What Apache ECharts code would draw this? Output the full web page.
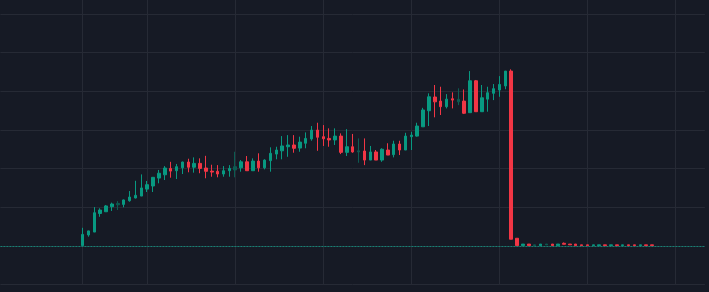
<!DOCTYPE html>
<html>
<head>
<meta charset="utf-8">
<script src="https://cdn.jsdelivr.net/npm/echarts@6/dist/echarts.min.js"></script>
<style>
  html, body { margin: 0; padding: 0; background: #161a25; overflow: hidden; }
  body { width: 709px; height: 292px; position: relative; }
  /* taller than the window so the top grid line sits above the frame */
  #chart { width: 709px; height: 330px; position: absolute; left: 0; top: -25px; }
</style>
</head>
<body>
<div id="chart"></div>
<script>
// empty bars before the first candle
const leadEmpty = 14
const totalSlots = 121
// vertical grid lines (slot indices)
const gridSlots = [14, 25, 40, 55, 70, 85, 100, 115]

const opens = [0.2, 5.7, 7.2, 16.8, 17.7, 20.3, 21.3, 21.5, 23.4, 24.8, 25.8, 29.4, 31.0, 35.1, 36.8, 40.1, 38.9, 40.4, 43.4, 40.7,
  42.7, 40.3, 38.7, 38.6, 37.2, 38.9, 39.3, 40.4, 43.5, 38.9, 43.9, 40.4, 44.1, 47.5, 49.2, 51.3, 52.2, 50.6, 53.1, 55.3,
  59.9, 56.5, 55.6, 54.8, 56.8, 48.4, 51.3, 49.2, 49.1, 44.4, 48.6, 44.4, 49.6, 47.2, 52.7, 49.6, 56.5, 56.8, 61.6, 69.9,
  77.0, 74.9, 72.0, 76.1, 75.8, 74.9, 68.9, 85.4, 69.4, 75.9, 78.9, 80.6, 82.7, 90.4, 4.0, 0.2, 1.0, 0.2, 0.2, 0.6,
  1.0, 0.2, 1.4, 1.0, 1.0, 0.6, 0.6, 0.2, 0.2, 0.6, 0.2, 0.6, 0.2, 0.6, 0.6, 0.2, 0.6, 0.6]
const closes = [6.0, 7.8, 17.2, 18.6, 20.7, 21.7, 22.0, 23.8, 25.3, 26.2, 30.0, 31.7, 35.5, 37.6, 40.3, 38.7, 41.0, 43.4, 40.7, 42.7,
  40.1, 38.6, 38.2, 37.2, 38.9, 40.1, 41.0, 43.5, 38.9, 43.9, 40.4, 44.4, 47.9, 49.6, 51.7, 52.2, 50.5, 53.7, 55.6, 59.9,
  56.2, 55.4, 54.8, 56.8, 48.4, 51.3, 48.6, 48.6, 44.4, 48.6, 44.4, 50.0, 47.0, 52.7, 49.6, 56.8, 57.3, 62.0, 70.3, 77.1,
  74.5, 72.0, 75.9, 75.4, 74.5, 68.6, 85.4, 69.4, 76.6, 79.2, 81.3, 83.5, 90.4, 3.5, 0.2, 1.0, 0.2, 0.6, 1.0, 1.0,
  0.2, 1.0, 0.9, 0.6, 0.2, 0.2, 0.2, 0.6, 0.6, 0.2, 0.6, 0.2, 0.6, 0.2, 0.2, 0.6, 0.2, 0.2]
const lows = [0.0, 4.8, 7.2, 15.1, 17.6, 18.1, 18.6, 20.0, 22.9, 24.6, 25.8, 27.9, 27.9, 32.4, 34.1, 35.3, 34.6, 37.2, 38.1, 37.9,
  37.6, 35.0, 35.8, 35.5, 35.8, 35.8, 35.5, 38.4, 38.9, 38.9, 38.4, 39.6, 38.4, 44.8, 44.8, 46.1, 48.2, 48.7, 50.5, 54.4,
  49.2, 51.7, 51.3, 52.2, 47.5, 46.5, 48.2, 43.0, 41.8, 44.4, 44.4, 43.5, 47.0, 45.8, 47.0, 49.6, 49.6, 56.5, 61.6, 62.0,
  66.5, 67.7, 71.1, 71.1, 72.8, 68.2, 68.9, 69.4, 69.4, 69.4, 75.4, 77.1, 81.0, 3.5, 0.2, 0.1, 0.2, 0.2, 0.2, 0.6,
  0.2, 0.2, 0.9, 0.6, 0.2, 0.2, 0.2, 0.2, 0.2, 0.2, 0.2, 0.2, 0.2, 0.2, 0.2, 0.2, 0.2, 0.2]
const highs = [9.4, 7.9, 20.1, 19.5, 21.2, 22.4, 23.2, 24.0, 28.4, 33.7, 37.0, 33.6, 35.6, 39.3, 41.3, 43.5, 42.4, 43.6, 45.1, 45.8,
  45.3, 46.6, 42.0, 41.8, 41.3, 41.8, 48.7, 44.4, 46.5, 45.3, 47.9, 44.8, 51.0, 51.3, 56.8, 57.3, 57.3, 56.5, 58.7, 62.0,
  63.7, 62.5, 60.8, 60.8, 58.2, 60.4, 57.9, 55.6, 55.6, 51.7, 49.6, 50.5, 53.1, 54.4, 54.4, 58.5, 59.0, 63.7, 71.4, 78.9,
  83.2, 82.3, 78.5, 79.4, 81.5, 80.9, 90.4, 85.8, 83.2, 82.3, 83.7, 87.8, 90.4, 91.3, 4.0, 1.0, 1.0, 0.6, 1.0, 1.0,
  1.0, 1.0, 1.8, 1.0, 1.0, 0.6, 0.6, 0.6, 0.6, 0.6, 0.6, 0.6, 0.6, 0.6, 0.6, 0.6, 0.6, 0.6]
// faded candles
const dimIdx = [6, 26, 47, 64, 77, 79]
const baseLevel = 0

const upColor = '#089981'
const downColor = '#f23645'
const upDim = '#0c5c52'
const downDim = '#7e2a33'

const categories = []
for (let i = 0; i < totalSlots; i++) categories.push(String(i))

const candles = []
for (let i = 0; i < leadEmpty; i++) candles.push('-')
opens.forEach((o, k) => {
  const item = { value: [o, closes[k], lows[k], highs[k]] }
  if (dimIdx.includes(k)) {
    item.itemStyle = { color: upDim, borderColor: upDim, color0: downDim, borderColor0: downDim }
  }
  candles.push(item)
})
while (candles.length < totalSlots) candles.push('-')

const chart = echarts.init(document.getElementById('chart'))
chart.setOption({
  backgroundColor: '#161a25',
  animation: false,
  grid: { left: 0.4, right: 4.1, top: 0.1, bottom: 20.3 },
  xAxis: {
    type: 'category',
    data: categories,
    boundaryGap: false,
    axisLine: { show: false },
    axisTick: { show: false },
    axisLabel: { show: false },
    splitLine: {
      show: true,
      interval: (idx) => gridSlots.includes(idx),
      lineStyle: { color: '#262a35', width: 1 }
    }
  },
  yAxis: {
    type: 'value',
    min: -20,
    max: 140,
    interval: 20,
    axisLine: { show: false },
    axisTick: { show: false },
    axisLabel: { show: false },
    splitLine: { lineStyle: { color: '#262a35', width: 1 } }
  },
  series: [
    {
      type: 'candlestick',
      data: candles,
      barWidth: 3,
      itemStyle: {
        color: upColor,
        color0: downColor,
        borderColor: upColor,
        borderColor0: downColor,
        borderWidth: 1
      },
      markLine: {
        silent: true,
        symbol: 'none',
        label: { show: false },
        lineStyle: { type: [2, 1], color: '#139683', width: 1, opacity: 0.8 },
        data: [{ yAxis: baseLevel }]
      }
    }
  ]
})
</script>
</body>
</html>
